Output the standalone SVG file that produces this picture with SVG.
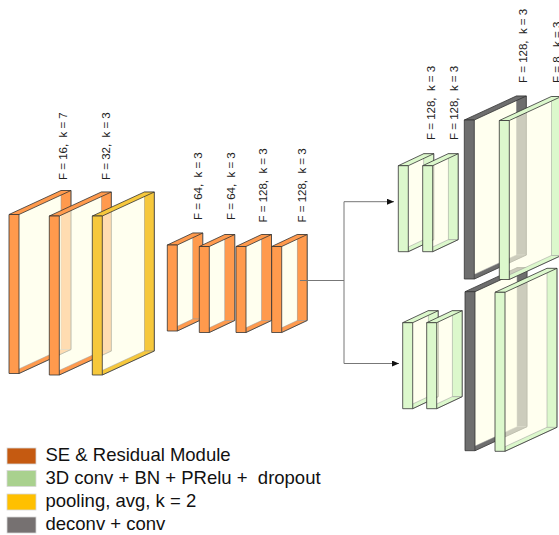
<svg xmlns="http://www.w3.org/2000/svg" xmlns:xlink="http://www.w3.org/1999/xlink" width="559" height="535" viewBox="0 0 559 535">
<style>
.lbl{font-family:"Liberation Sans",Arial,sans-serif;font-size:11.5px;fill:#222}
.leg{font-family:"Liberation Sans",Arial,sans-serif;font-size:18.5px;fill:#111}
.c-or{color:#FF9A4D}
.c-ye{color:#F6C83C}
.c-gr{color:#DCF8CC}
.c-dk{color:#6E6E6E}
.wire{fill:none;stroke:#777;stroke-width:1}
.cf{fill:currentColor}
.edge{stroke:#333;stroke-width:0.8;stroke-linejoin:round}
.inner{stroke:#999;stroke-width:0.5}
.glass{fill:#FFFFE6;fill-opacity:0.65}
</style>
<defs>
<marker id="arr" markerUnits="userSpaceOnUse" markerWidth="8" markerHeight="8" refX="7" refY="3" orient="auto">
<path d="M0,0 L7,3 L0,6 z" fill="#111"/>
</marker>
<g id="big">
<polygon class="glass" points="10,0 62,-24 62,135 10,159"/>
<rect class="cf inner" x="52" y="-24" width="10" height="159"/>
<polygon class="cf inner" points="10,159 62,135 52,135 10,154.4"/>
<polygon class="cf edge" points="0,0 52,-24 62,-24 10,0"/>
<rect class="cf edge" x="0" y="0" width="10" height="159"/>
<polyline class="edge" fill="none" points="62,-24 62,135 10,159"/>
</g>
<g id="small">
<polygon class="glass" points="10,0 35.5,-12 35.5,74 10,86"/>
<rect class="cf inner" x="25.5" y="-12" width="10" height="86"/>
<polygon class="cf inner" points="10,86 35.5,74 25.5,74 10,81.3"/>
<polygon class="cf edge" points="0,0 25.5,-12 35.5,-12 10,0"/>
<rect class="cf edge" x="0" y="0" width="10" height="86"/>
<polyline class="edge" fill="none" points="35.5,-12 35.5,74 10,86"/>
</g>
</defs>
<rect width="559" height="535" fill="#fff"/>

<g id="enc1"><use xlink:href="#big" href="#big" class="c-or" transform="translate(9,214.5)"/></g>
<g id="enc2"><use xlink:href="#big" href="#big" class="c-or" transform="translate(49.3,216)"/></g>
<g id="pool1"><use xlink:href="#big" href="#big" class="c-ye" transform="translate(92.3,216)"/></g>
<g id="enc3"><use xlink:href="#small" href="#small" class="c-or" transform="translate(167.3,245)"/></g>
<g id="enc4"><use xlink:href="#small" href="#small" class="c-or" transform="translate(199.3,246.5)"/></g>
<g id="enc5"><use xlink:href="#small" href="#small" class="c-or" transform="translate(236,246.5)"/></g>
<g id="enc6"><use xlink:href="#small" href="#small" class="c-or" transform="translate(271.7,246.5)"/></g>

<g id="top1"><use xlink:href="#small" href="#small" class="c-gr" transform="translate(398.3,165.7)"/></g>
<g id="top2"><use xlink:href="#small" href="#small" class="c-gr" transform="translate(422.7,165.7)"/></g>
<g id="bot1"><use xlink:href="#small" href="#small" class="c-gr" transform="translate(402.7,322.7)"/></g>
<g id="bot2"><use xlink:href="#small" href="#small" class="c-gr" transform="translate(426.7,322.7)"/></g>

<g id="topDeconv"><use xlink:href="#big" href="#big" class="c-dk" transform="translate(464.3,120)"/></g>
<g id="botDeconv"><use xlink:href="#big" href="#big" class="c-dk" transform="translate(465,291.7)"/></g>
<g id="topOut"><use xlink:href="#big" href="#big" class="c-gr" transform="translate(499.3,120.5)"/></g>
<g id="botOut"><use xlink:href="#big" href="#big" class="c-gr" transform="translate(495,292.3)"/></g>

<g id="connectors">
<path class="wire" d="M300,280.5 H344 M344,201.7 V363.5"/>
<path class="wire" d="M344,201.7 H394" marker-end="url(#arr)"/>
<path class="wire" d="M344,363.5 H399" marker-end="url(#arr)"/>
</g>

<g id="labels">
<text class="lbl" transform="translate(66.5,180) rotate(-90)">F = 16,&#160; k = 7</text>
<text class="lbl" transform="translate(110,180) rotate(-90)">F = 32,&#160; k = 3</text>
<text class="lbl" transform="translate(201.5,220) rotate(-90)">F = 64,&#160; k = 3</text>
<text class="lbl" transform="translate(235,220) rotate(-90)">F = 64,&#160; k = 3</text>
<text class="lbl" transform="translate(267,222.5) rotate(-90)">F = 128,&#160; k = 3</text>
<text class="lbl" transform="translate(306,222.5) rotate(-90)">F = 128,&#160; k = 3</text>
<text class="lbl" transform="translate(435,140) rotate(-90)">F = 128,&#160; k = 3</text>
<text class="lbl" transform="translate(458,140) rotate(-90)">F = 128,&#160; k = 3</text>
<text class="lbl" transform="translate(526.5,83) rotate(-90)">F = 128,&#160; k = 3</text>
<text class="lbl" transform="translate(561,83) rotate(-90)">F = 8,&#160; k = 3</text>
</g>

<g id="legend">
<rect x="7" y="448" width="29" height="16" fill="#C55A11" stroke="#d8d8d8" stroke-width="0.8"/>
<rect x="7" y="470.5" width="29" height="16" fill="#A9D18E" stroke="#d8d8d8" stroke-width="0.8"/>
<rect x="7" y="494" width="29" height="16" fill="#FFC000" stroke="#d8d8d8" stroke-width="0.8"/>
<rect x="7" y="517" width="29" height="16" fill="#767171" stroke="#d8d8d8" stroke-width="0.8"/>
<text class="leg" x="45.5" y="460.7">SE &amp; Residual Module</text>
<text class="leg" x="45.5" y="483.5">3D conv + BN + PRelu +&#160; dropout</text>
<text class="leg" x="45.5" y="507">pooling, avg, k = 2</text>
<text class="leg" x="45.5" y="530">deconv + conv</text>
</g>
</svg>
